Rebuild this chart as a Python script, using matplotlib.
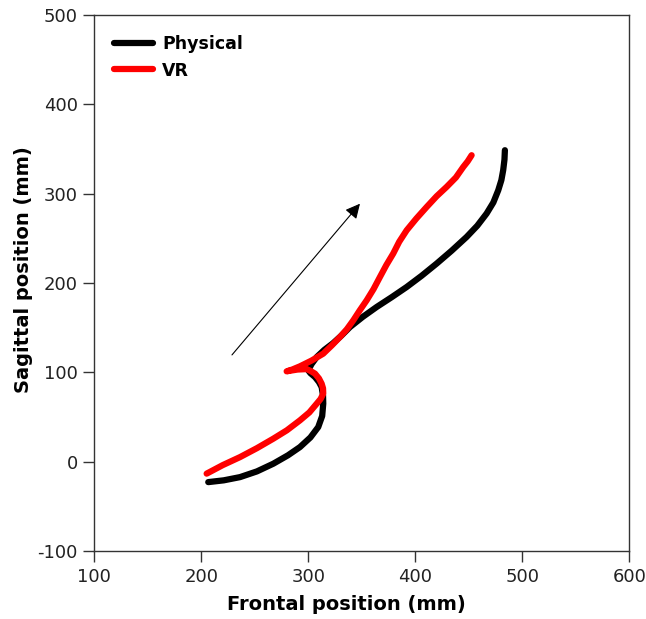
import matplotlib.pyplot as plt

plt.rcParams["axes.unicode_minus"] = False

# traces (mm)
phys_x = [206.5, 221, 236.2, 252, 267.3, 281, 292.2, 302, 309.3, 313, 314.0, 313.8, 312.5, 310, 306.3, 302, 300,
          303, 307.9, 315, 323.1, 331, 339.0, 351, 363.9, 378, 392.0, 406, 420.0, 434, 448.0, 458, 466.7, 473,
          477.6, 480.5, 482.2, 483.4, 483.8]
phys_y = [-23.0, -21, -17.4, -11, -2.4, 7, 16.2, 27, 38.6, 51, 64.8, 74, 83.4, 89, 94.6, 99, 102.1,
          109, 117, 125, 132.4, 141, 150.6, 162, 173, 184, 195.4, 208, 221.6, 236, 251.4, 264, 277.6, 290,
          303.7, 315, 326.1, 338, 348.5]

vr_x = [205.0, 220, 236.2, 252, 267.3, 280, 292.2, 301, 307.9, 311.5, 314.0, 313.8, 312.5, 310, 306.3, 302,
        298.5, 290, 282, 279.8, 285, 292.2, 303, 314.0, 322, 329.6, 336, 342.1, 348, 354.6, 361, 367.0, 373,
        379.4, 385, 392.0, 401, 410.7, 420, 429.3, 438, 444.9, 449, 452.7]
vr_y = [-13.5, -4, 5, 15, 25.6, 35, 46.1, 55, 64.8, 70, 76, 82, 87.2, 93, 98.4, 101.5,
        103.5, 103, 101.5, 101, 103, 106.6, 113, 120.8, 130, 139.4, 148, 158.1, 169, 180.5, 193, 206.6, 220,
        232.8, 246, 258.9, 272, 285, 297, 307.4, 318, 329.8, 336, 342.9]

arrow_start = (227, 117)
arrow_end = (350, 291)

x_ticks = [100, 200, 300, 400, 500, 600]
y_ticks = [-100, 0, 100, 200, 300, 400, 500]

fig = plt.figure(figsize=(6.46, 6.19), dpi=100)
ax = fig.add_axes([0.146, 0.110, 0.828, 0.866])

ax.plot(phys_x, phys_y, color="black", lw=4.5, solid_capstyle="round", label="Physical")
ax.plot(vr_x, vr_y, color="#ff0000", lw=4.5, solid_capstyle="round", label="VR")

ax.annotate("", xy=arrow_end, xytext=arrow_start,
            arrowprops=dict(arrowstyle="-|>", color="black", lw=0.8, mutation_scale=22))

ax.set_xlim(100, 600)
ax.set_ylim(-100, 500)
ax.set_xticks(x_ticks)
ax.set_yticks(y_ticks)
ax.tick_params(direction="out", length=8, width=1, color="#333333", labelcolor="#222222",
               labelsize=13, pad=4)
for s in ax.spines.values():
    s.set_color("#333333")
    s.set_linewidth(1)

ax.set_xlabel("Frontal position (mm)", fontsize=14, fontweight="bold")
ax.set_ylabel("Sagittal position (mm)", fontsize=14, fontweight="bold")
ax.xaxis.set_label_coords(0.472, -0.082)
ax.yaxis.set_label_coords(-0.115, 0.524)

leg = ax.legend(loc="upper left", frameon=False, fontsize=12.5, handlelength=2.25,
                borderaxespad=0.75, labelspacing=0.5, handletextpad=0.5)
for t in leg.get_texts():
    t.set_fontweight("bold")

fig.savefig("out.png", dpi=100)
